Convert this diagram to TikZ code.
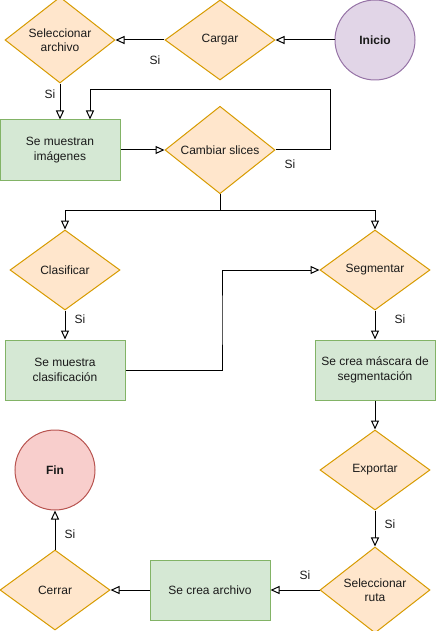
\documentclass[tikz,border=0pt]{standalone}
\usepackage{fontspec}
\setmainfont{Liberation Sans}
\usetikzlibrary{shapes.geometric,arrows.meta}
\definecolor{decfill}{HTML}{FFE6CC}
\definecolor{decline}{HTML}{D79B00}
\definecolor{procfill}{HTML}{D5E8D4}
\definecolor{procline}{HTML}{82B366}
\definecolor{startfill}{HTML}{E1D5E7}
\definecolor{startline}{HTML}{9673A6}
\definecolor{endfill}{HTML}{F8CECC}
\definecolor{endline}{HTML}{B85450}
\definecolor{txt}{HTML}{1A1A1A}
\begin{document}
\begin{tikzpicture}[x=1pt, y=-1pt,
    every node/.style={font=\fontsize{12}{14.5}\selectfont, text=txt, align=center},
    decisionbox/.style={diamond, draw=decline, fill=decfill, line width=1pt, inner sep=0pt, minimum width=110pt, minimum height=80pt},
    procbox/.style={rectangle, draw=procline, fill=procfill, line width=1pt, minimum width=120pt, minimum height=60pt},
    startnode/.style={circle, draw=startline, fill=startfill, line width=1pt, minimum size=80pt, font=\fontsize{12}{14.5}\selectfont\bfseries},
    endnode/.style={circle, draw=endline, fill=endfill, line width=1pt, minimum size=80pt, font=\fontsize{12}{14.5}\selectfont\bfseries},
    flowarrow/.style={draw=black, line width=1pt, -{Triangle[open, length=9pt, width=8pt, fill=white]}},
    yeslabel/.style={inner sep=0pt}]
    \useasboundingbox (0,0) rectangle (436,631);
    % Draw nodes
    \node[startnode] (inicio) at (375,40) {Inicio};
    \node[decisionbox] (cargar) at (220,40) {Cargar};
    \node[decisionbox] (selarchivo) at (60,40) {Seleccionar\\archivo};
    \node[procbox] (muestran) at (60,150) {Se muestran\\imágenes};
    \node[decisionbox] (cambiar) at (220,150) {Cambiar slices};
    \node[decisionbox] (clasificar) at (65,270) {Clasificar};
    \node[decisionbox] (segmentar) at (375,270) {Segmentar};
    \node[procbox] (mclasif) at (65,370) {Se muestra\\clasificación};
    \node[procbox] (mascara) at (375,370) {Se crea máscara de\\segmentación};
    \node[decisionbox] (exportar) at (375,470) {Exportar};
    \node[decisionbox] (selruta) at (375,590) {Seleccionar\\ruta};
    \node[procbox] (archivo) at (210,590) {Se crea archivo};
    \node[decisionbox] (cerrar) at (55,590) {Cerrar};
    \node[endnode] (fin) at (55,470) {Fin};
    % Draw helper points
    \coordinate (loop) at (330,90);
    \coordinate (split) at (220,210);
    \coordinate (bend) at (222,320);
    % Draw connectors
    \draw[flowarrow] (inicio) -- (cargar);
    \draw[flowarrow] (cargar) -- (selarchivo);
    \draw[flowarrow] (selarchivo) -- (muestran);
    \draw[flowarrow] (muestran) -- (cambiar);
    \draw[flowarrow] (cambiar.east) -| (loop) -| ([xshift=30pt]muestran.north);
    \draw[flowarrow] (cambiar.south) -- (split) -| (clasificar.north);
    \draw[flowarrow] (split) -| (segmentar.north);
    \draw[flowarrow] (clasificar) -- (mclasif);
    \draw[flowarrow] (mclasif.east) -| (bend) |- (segmentar.west);
    \draw[flowarrow] (segmentar) -- (mascara);
    \draw[flowarrow] (mascara) -- (exportar);
    \draw[flowarrow] (exportar) -- (selruta);
    \draw[flowarrow] (selruta) -- (archivo);
    \draw[flowarrow] (archivo) -- (cerrar);
    \draw[flowarrow] (cerrar) -- (fin);
    % Draw labels
    \node[yeslabel] (si1) at (155,60) {Si};
    \node[yeslabel] (si2) at (50,94) {Si};
    \node[yeslabel] (si3) at (290,164) {Si};
    \node[yeslabel] (si4) at (80,319) {Si};
    \node[yeslabel] (si5) at (400,319) {Si};
    \node[yeslabel] (si6) at (390,524) {Si};
    \node[yeslabel] (si7) at (305,575) {Si};
    \node[yeslabel] (si8) at (70,534) {Si};
\end{tikzpicture}
\end{document}
